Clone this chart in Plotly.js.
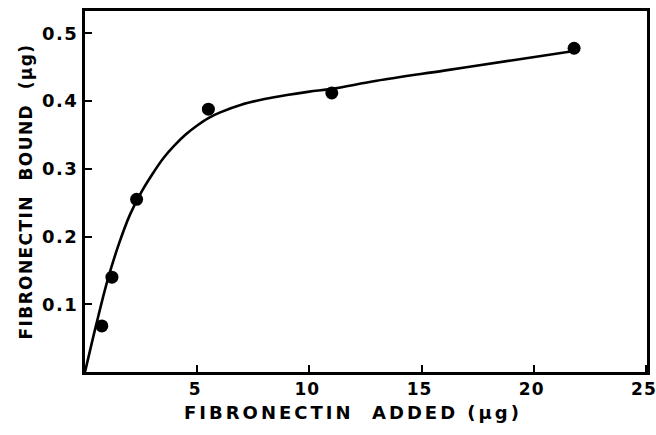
<!DOCTYPE html>
<html>
<head>
<meta charset="utf-8">
<script src="https://cdn.plot.ly/plotly-3.0.1.min.js"></script>
<style>
html,body{margin:0;padding:0;background:#fff;}
#chart{width:656px;height:435px;}
.annotation-text{letter-spacing:3px;}
.ytitle{letter-spacing:1.4px;}
.ytick text{letter-spacing:1.5px;}
.xtick text{letter-spacing:1px;}
</style>
</head>
<body>
<div id="chart"></div>
<script>
// Measured points
const addedX = [0.75, 1.2, 2.3, 5.5, 11.0, 21.8];
const boundY = [0.068, 0.140, 0.255, 0.388, 0.412, 0.478];

// Hand-drawn fitted curve
const curveX = [0, 0.5, 1.0, 1.5, 2.0, 2.5, 3.0, 3.5, 4.0, 4.5, 5.0, 5.5, 6.0, 7.0, 8.0, 9.0, 10.0, 11.0, 13.0, 16.0, 19.0, 21.8];
const curveY = [0, 0.070, 0.135, 0.188, 0.232, 0.265, 0.292, 0.316, 0.335, 0.351, 0.364, 0.375, 0.383, 0.395, 0.403, 0.409, 0.414, 0.418, 0.430, 0.445, 0.460, 0.474];

const xTickVals = [5, 10, 15, 20, 25];
const xTickText = ['5', '10', '15', '20', '25'];
const yTickVals = [0.1, 0.2, 0.3, 0.4, 0.5];
const yTickText = ['0.1', '0.2', '0.3', '0.4', '0.5'];

const xTitle = 'FIBRONECTIN  ADDED (μg)';
const yTitle = 'FIBRONECTIN  BOUND  (μg)';

const fontFamily = 'DejaVu Sans, sans-serif';

const traces = [
  {
    x: curveX, y: curveY, type: 'scatter', mode: 'lines',
    line: {color: '#000', width: 2.6, shape: 'spline', smoothing: 1},
    hoverinfo: 'skip', showlegend: false
  },
  {
    x: addedX, y: boundY, type: 'scatter', mode: 'markers',
    marker: {color: '#000', size: 13}, showlegend: false
  }
];

const layout = {
  width: 656, height: 435,
  margin: {l: 85, r: 9, t: 11, b: 63},
  paper_bgcolor: '#fff', plot_bgcolor: '#fff',
  font: {family: fontFamily, color: '#000', size: 17},
  xaxis: {
    range: [0, 25.05], showgrid: false, zeroline: false,
    showline: true, linecolor: '#000', linewidth: 3, mirror: true,
    ticks: 'inside', ticklen: 7, tickwidth: 2, tickcolor: '#000',
    tickvals: xTickVals, ticktext: xTickText, ticklabelshift: -2,
    ticklabeloverflow: 'allow',
    tickfont: {family: fontFamily, size: 17, color: '#000', weight: 'bold'}
  },
  yaxis: {
    range: [0, 0.533], showgrid: false, zeroline: false,
    showline: true, linecolor: '#000', linewidth: 3, mirror: true,
    ticks: 'inside', ticklen: 7, tickwidth: 2, tickcolor: '#000',
    tickvals: yTickVals, ticktext: yTickText,
    tickfont: {family: fontFamily, size: 18, color: '#000', weight: 'bold'},
    title: {text: yTitle, font: {family: fontFamily, size: 17, color: '#000', weight: 'bold'}, standoff: 6}
  },
  annotations: [{
    text: xTitle, xref: 'paper', yref: 'paper', x: 0.477, y: 0,
    xanchor: 'center', yanchor: 'top', yshift: -28, showarrow: false,
    font: {family: fontFamily, size: 18, color: '#000', weight: 'bold'}
  }]
};

Plotly.newPlot('chart', traces, layout, {displayModeBar: false, staticPlot: true});
</script>
</body>
</html>
